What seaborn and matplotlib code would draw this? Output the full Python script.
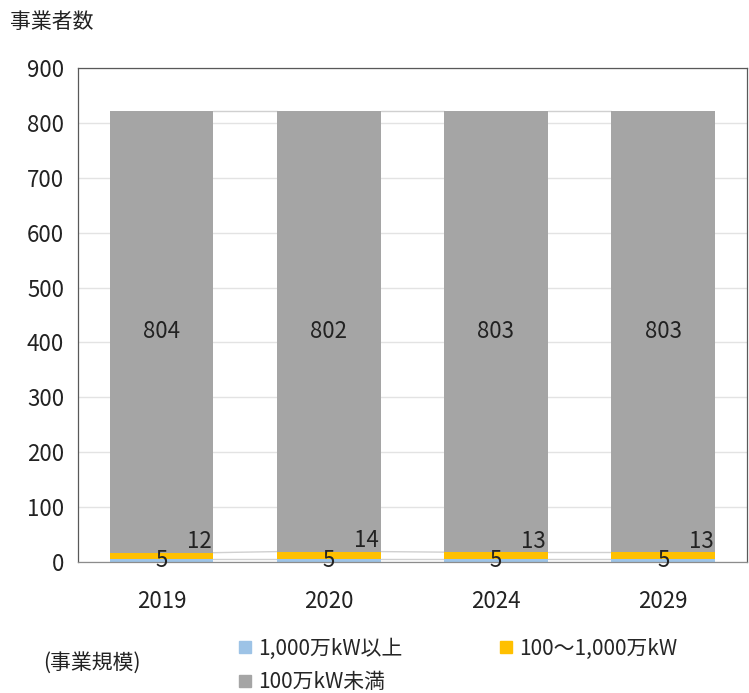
import numpy as np
import pandas as pd
import matplotlib
matplotlib.use("Agg")
import matplotlib.pyplot as plt
import seaborn as sns
from matplotlib.lines import Line2D

years = ["2019", "2020", "2024", "2029"]
large = [5, 5, 5, 5]          # 1,000万kW以上
middle = [12, 14, 13, 13]     # 100～1,000万kW
small = [804, 802, 803, 803]  # 100万kW未満

c_large = "#9dc3e6"
c_middle = "#ffc000"
c_small = "#a5a5a5"

sns.set_style("white")
plt.rcParams["font.family"] = ["Noto Sans CJK JP", "DejaVu Sans"]

df = pd.DataFrame({"year": years, "large": large, "middle": middle, "small": small})
df["cum1"] = df["large"]
df["cum2"] = df["large"] + df["middle"]
df["cum3"] = df["cum2"] + df["small"]

fig = plt.figure(figsize=(7.49, 6.93), dpi=100)
ax = fig.add_axes([0.104, 0.189, 0.893, 0.713])

bw = 0.62
for col, color in [("cum3", c_small), ("cum2", c_middle), ("cum1", c_large)]:
    sns.barplot(data=df, x="year", y=col, color=color, width=bw,
                saturation=1, ax=ax, zorder=2, edgecolor="none")

# series lines between bars
for i in range(len(years) - 1):
    for col in ["cum1", "cum2", "cum3"]:
        ax.plot([i + bw / 2, i + 1 - bw / 2], [df[col][i], df[col][i + 1]],
                color="#d0d0d0", lw=1.0, zorder=1)

# data labels
for i in range(len(years)):
    ax.text(i, df["large"][i] / 2, str(large[i]), ha="center", va="center",
            fontsize=16, color="#222222", zorder=5)
    ax.text(i + bw / 2 - 0.01, df["cum2"][i] + 20, str(middle[i]), ha="right",
            va="center", fontsize=16, color="#222222", zorder=5)
    ax.text(i, df["cum2"][i] + small[i] / 2, str(small[i]), ha="center",
            va="center", fontsize=16, color="#222222", zorder=5)

ax.set_ylim(0, 900)
ax.set_xlim(-0.5, 3.5)
ax.set_yticks(range(0, 901, 100))
ax.yaxis.grid(True, color="#e3e3e3", lw=1.0)
ax.set_axisbelow(True)
ax.set_xlabel("")
ax.set_ylabel("")
ax.tick_params(axis="both", labelsize=16, colors="#222222", length=0)
ax.tick_params(axis="x", pad=20)
ax.tick_params(axis="y", pad=10)
for s in ax.spines.values():
    s.set_visible(True)
    s.set_color("#595959")
    s.set_linewidth(0.9)
ax.spines["bottom"].set_color("#8c8c8c")

fig.text(0.013, 0.968, "事業者数", fontsize=15, ha="left", va="center", color="#222222")
fig.text(0.057, 0.043, "(事業規模)", fontsize=15, ha="left", va="center", color="#222222")

def sq(c):
    return Line2D([], [], marker="s", color="none", markerfacecolor=c,
                  markeredgecolor=c, markersize=8)

handles = [sq(c_large), sq(c_small), sq(c_middle)]
labels = ["1,000万kW以上", "100万kW未満", "100～1,000万kW"]
fig.legend(handles, labels, ncol=2, loc="center left", bbox_to_anchor=(0.303, 0.04),
           frameon=False, fontsize=15, handlelength=0.7, handletextpad=0.3,
           columnspacing=4.6, labelspacing=0.55, borderpad=0)

fig.savefig("out.png", dpi=100)
